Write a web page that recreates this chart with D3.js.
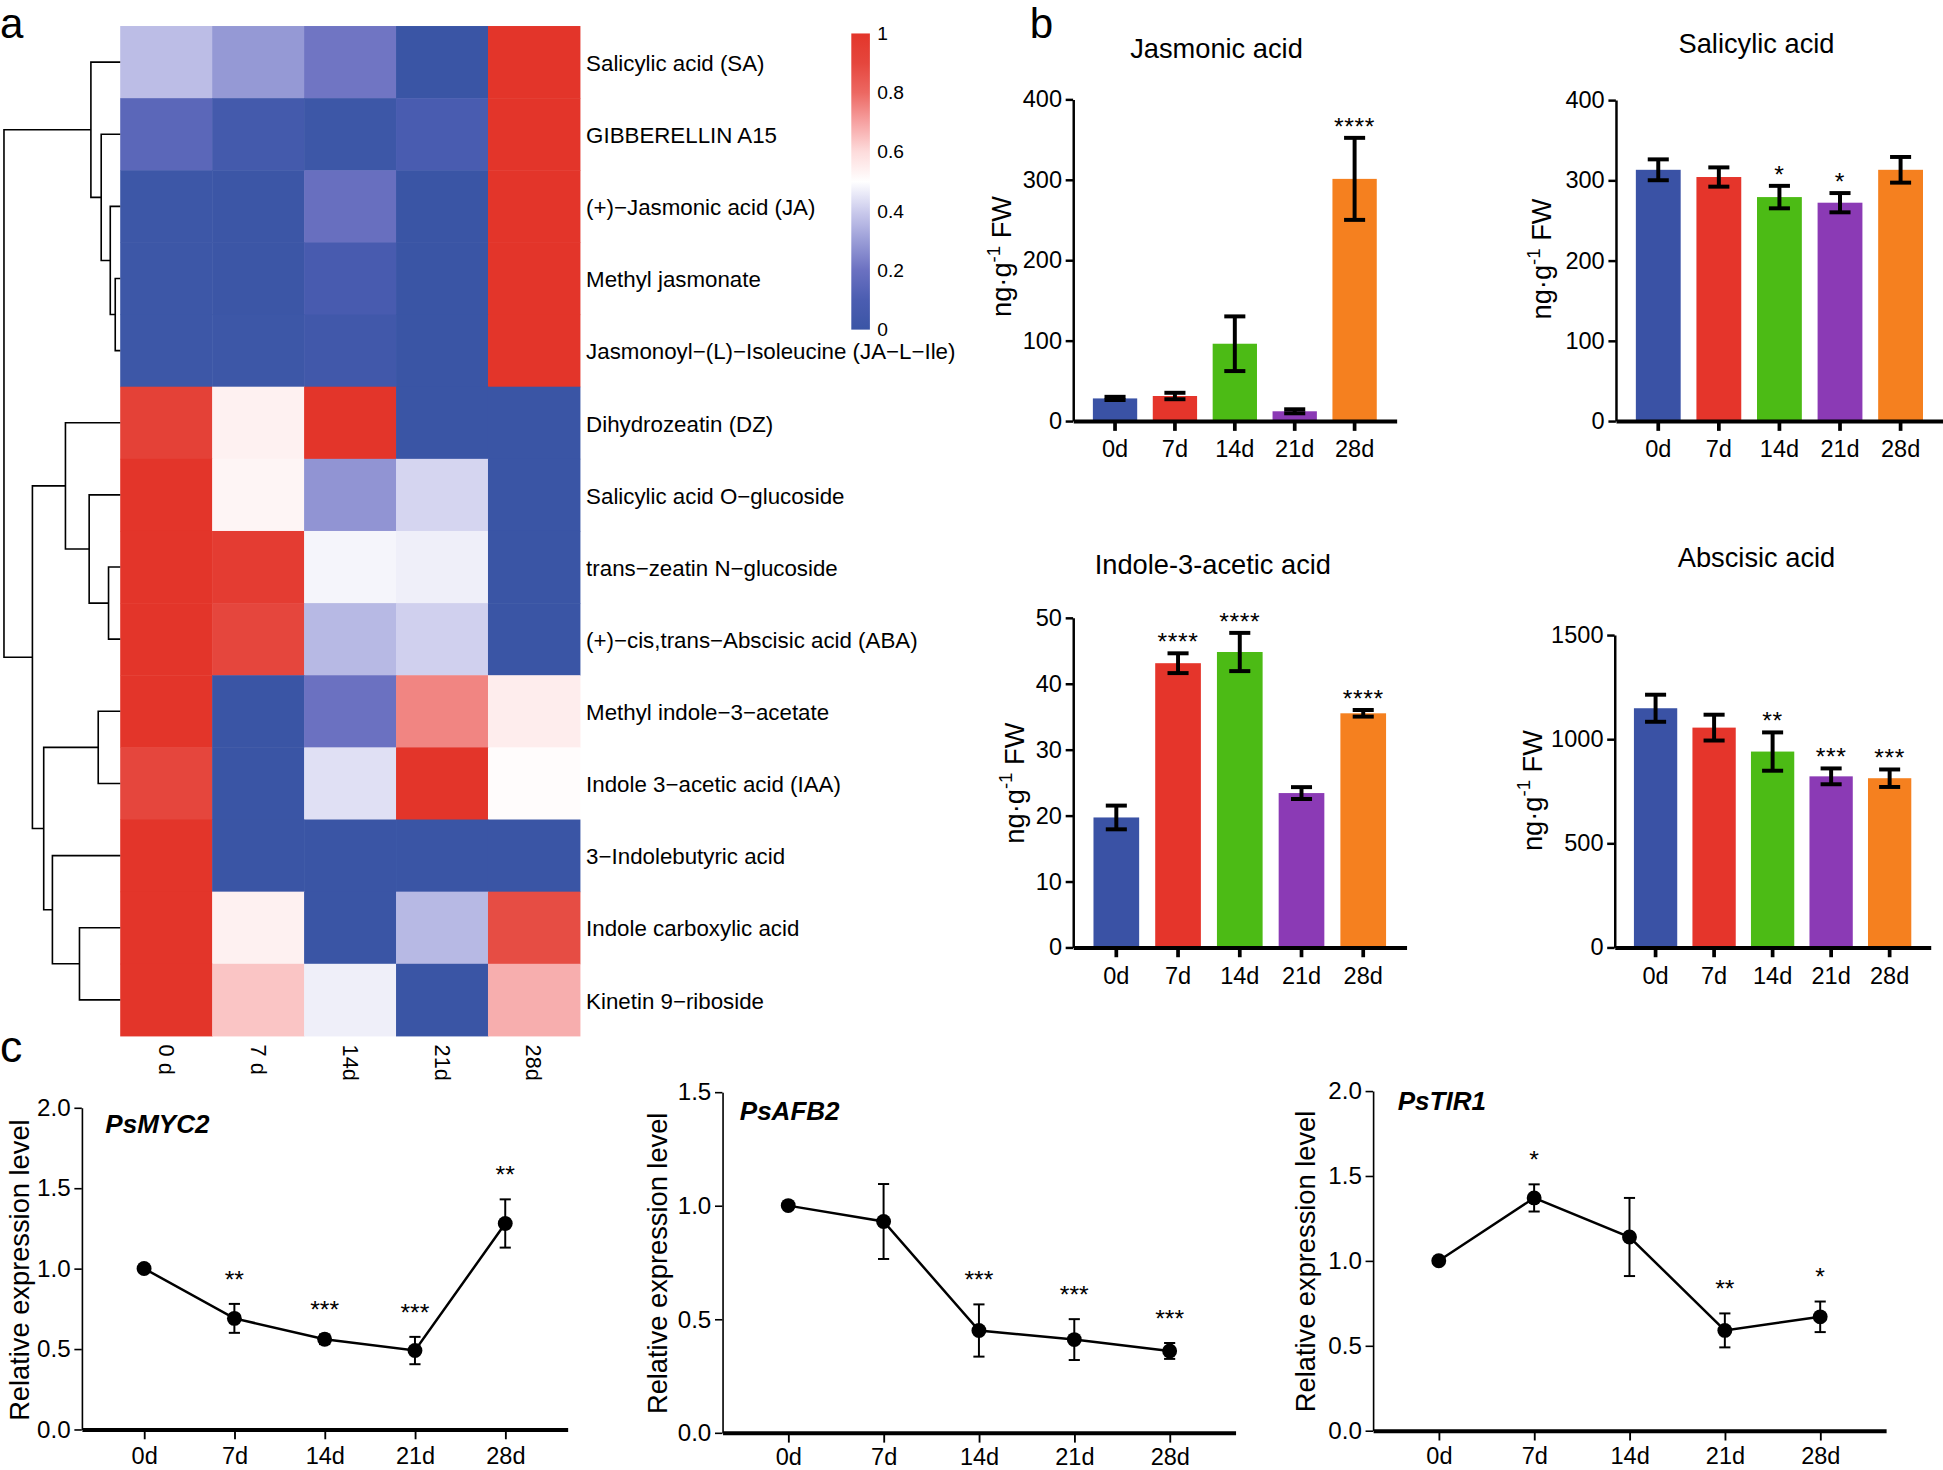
<!DOCTYPE html>
<html>
<head>
<meta charset="utf-8">
<script src="https://d3js.org/d3.v7.min.js"></script>
<style>
  body { margin: 0; background: #fff; }
  svg { display: block; font-family: "Liberation Sans", Arial, Helvetica, sans-serif; }
</style>
</head>
<body>
<div id="fig"></div>
<script>
// ---- panel a: heatmap data ----
const hmRows = [
  "Salicylic acid (SA)",
  "GIBBERELLIN A15",
  "(+)\u2212Jasmonic acid (JA)",
  "Methyl jasmonate",
  "Jasmonoyl\u2212(L)\u2212Isoleucine (JA\u2212L\u2212Ile)",
  "Dihydrozeatin (DZ)",
  "Salicylic acid O\u2212glucoside",
  "trans\u2212zeatin N\u2212glucoside",
  "(+)\u2212cis,trans\u2212Abscisic acid (ABA)",
  "Methyl indole\u22123\u2212acetate",
  "Indole 3\u2212acetic acid (IAA)",
  "3\u2212Indolebutyric acid",
  "Indole carboxylic acid",
  "Kinetin 9\u2212riboside"
];
const hmCols = ["0 d", "7 d", "14d", "21d", "28d"];
const hmValues = [
  [0.37, 0.29, 0.21, 0.00, 1.00],
  [0.15, 0.06, 0.02, 0.09, 1.00],
  [0.02, 0.01, 0.19, 0.00, 1.00],
  [0.02, 0.01, 0.08, 0.00, 1.00],
  [0.02, 0.02, 0.04, 0.00, 1.00],
  [0.93, 0.54, 1.00, 0.00, 0.00],
  [1.00, 0.53, 0.28, 0.42, 0.00],
  [1.00, 0.96, 0.48, 0.47, 0.00],
  [1.00, 0.90, 0.36, 0.41, 0.00],
  [1.00, 0.00, 0.20, 0.75, 0.55],
  [0.90, 0.00, 0.44, 1.00, 0.51],
  [1.00, 0.00, 0.00, 0.00, 0.00],
  [1.00, 0.54, 0.00, 0.36, 0.88],
  [1.00, 0.64, 0.47, 0.00, 0.68]
];
const colorTicks = [0, 0.2, 0.4, 0.6, 0.8, 1];

// row dendrogram (merge heights)
const rowTree = { h: 9.36, children: [
  { h: 2.36, children: [
    { leaf: hmRows[0] },
    { h: 1.53, children: [
      { leaf: hmRows[1] },
      { h: 0.8, children: [
        { leaf: hmRows[2] },
        { h: 0.4, children: [{ leaf: hmRows[3] }, { leaf: hmRows[4] }] }
      ] }
    ] }
  ] },
  { h: 7.07, children: [
    { h: 4.41, children: [
      { leaf: hmRows[5] },
      { h: 2.5, children: [
        { leaf: hmRows[6] },
        { h: 0.94, children: [{ leaf: hmRows[7] }, { leaf: hmRows[8] }] }
      ] }
    ] },
    { h: 6.16, children: [
      { h: 1.77, children: [{ leaf: hmRows[9] }, { leaf: hmRows[10] }] },
      { h: 5.46, children: [
        { leaf: hmRows[11] },
        { h: 3.28, children: [{ leaf: hmRows[12] }, { leaf: hmRows[13] }] }
      ] }
    ] }
  ] }
] };

// ---- panel b: hormone contents ----
const days = ["0d", "7d", "14d", "21d", "28d"];
const barColors = ["#3a52a5", "#e5352b", "#4cbb15", "#8b3ab5", "#f5801f"];

const jaMean = [28, 31, 96, 12, 301];
const jaErr = [2, 4, 34, 2.5, 51];
const jaSig = ["", "", "", "", "****"];

const saMean = [313, 304, 279, 272, 313];
const saErr = [13, 12, 14, 12, 16];
const saSig = ["", "", "*", "*", ""];

const iaaMean = [19.7, 43.1, 44.8, 23.4, 35.5];
const iaaErr = [1.8, 1.5, 2.9, 0.9, 0.5];
const iaaSig = ["", "****", "****", "", "****"];

const abaMean = [1148, 1055, 940, 821, 812];
const abaErr = [65, 62, 92, 38, 42];
const abaSig = ["", "", "**", "***", "***"];

// ---- panel c: relative expression ----
const myc2Mean = [1.0, 0.69, 0.56, 0.49, 1.28];
const myc2Err = [0, 0.09, 0.03, 0.085, 0.15];
const myc2Sig = ["", "**", "***", "***", "**"];

const afb2Mean = [1.0, 0.93, 0.45, 0.41, 0.36];
const afb2Err = [0, 0.165, 0.115, 0.09, 0.035];
const afb2Sig = ["", "", "***", "***", "***"];

const tir1Mean = [1.0, 1.37, 1.14, 0.59, 0.67];
const tir1Err = [0, 0.08, 0.23, 0.1, 0.09];
const tir1Sig = ["", "*", "", "**", "*"];

// ---------------------------------------------------------------
const svg = d3.select("#fig").append("svg")
  .attr("width", 1943).attr("height", 1470)
  .attr("viewBox", "0 0 1568 1186.3");

// panel letters
[["a", 0, 31, 34], ["b", 831, 31, 34], ["c", 0, 857, 36]].forEach(([t, x, y, s]) => {
  svg.append("text").attr("x", x).attr("y", y).attr("font-size", s).text(t);
});

// ---------------- heatmap ----------------
const hmColor = d3.scaleLinear()
  .domain([0, 0.1, 0.2, 0.3, 0.4, 0.5, 0.6, 0.7, 0.8, 0.9, 1])
  .range(["#3a55a5", "#4b5db1", "#6b71c1", "#9a9dd7", "#cbcbec", "#ffffff",
          "#fddcdc", "#f6a2a2", "#ec6862", "#e5463d", "#e3352a"]);

const hmX = d3.scaleBand().domain(hmCols).range([97, 468]);
const hmY = d3.scaleBand().domain(hmRows).range([21, 836]);

const cells = hmRows.flatMap((r, i) => hmCols.map((c, j) => ({ r, c, v: hmValues[i][j] })));
svg.append("g").selectAll("rect").data(cells).join("rect")
  .attr("x", d => hmX(d.c))
  .attr("y", d => hmY(d.r))
  .attr("width", hmX.bandwidth() + 0.4)
  .attr("height", hmY.bandwidth() + 0.4)
  .attr("fill", d => hmColor(d.v));

// row labels
svg.append("g").selectAll("text").data(hmRows).join("text")
  .attr("x", 473)
  .attr("y", d => hmY(d) + hmY.bandwidth() / 2 + 1)
  .attr("dominant-baseline", "central")
  .attr("font-size", 18)
  .text(d => d);

// column labels (rotated)
svg.append("g").selectAll("text").data(hmCols).join("text")
  .attr("transform", d => `translate(${hmX(d) + hmX.bandwidth() / 2},843) rotate(90)`)
  .attr("dominant-baseline", "central")
  .attr("font-size", 17.5)
  .text(d => d);

// dendrogram
const tree = d3.hierarchy(rowTree);
const hx = d3.scaleLinear().domain([0, 9.36]).range([97, 3.2]);
tree.eachAfter(n => {
  n.py = n.children ? d3.mean(n.children, c => c.py) : hmY(n.data.leaf) + hmY.bandwidth() / 2;
  n.px = hx(n.data.h || 0);
});
svg.append("g")
  .attr("fill", "none").attr("stroke", "#000").attr("stroke-width", 1.3)
  .selectAll("path").data(tree.descendants().filter(n => n.children)).join("path")
  .attr("d", n => {
    const [a, b] = n.children;
    return `M${a.px},${a.py}H${n.px}V${b.py}H${b.px}`;
  });

// colour bar
const grad = svg.append("defs").append("linearGradient")
  .attr("id", "cbar").attr("x1", 0).attr("y1", 1).attr("x2", 0).attr("y2", 0);
grad.selectAll("stop").data(d3.range(21).map(i => i / 20)).join("stop")
  .attr("offset", d => d)
  .attr("stop-color", d => hmColor(d));
const cbY = d3.scaleLinear().domain([0, 1]).range([266, 27]);
svg.append("rect")
  .attr("x", 687).attr("y", cbY(1))
  .attr("width", 15).attr("height", cbY(0) - cbY(1))
  .attr("fill", "url(#cbar)");
svg.append("g").selectAll("text").data(colorTicks).join("text")
  .attr("x", 708)
  .attr("y", d => cbY(d))
  .attr("dominant-baseline", "central")
  .attr("font-size", 15.5)
  .text(d => d);

// ---------------- bar charts ----------------
function styleAxis(g, size, domainW, tickW) {
  g.attr("font-family", null).attr("font-size", size);
  g.select(".domain").attr("stroke-width", domainW);
  g.selectAll(".tick line").attr("stroke-width", tickW);
  g.selectAll(".tick text").attr("fill", "#000");
}

function barChart(p) {
  const g = svg.append("g");
  const x = d3.scaleBand().domain(days).range(p.xr).paddingInner(0.26).paddingOuter(0.33);
  const y = d3.scaleLinear().domain([0, p.max]).range(p.yr);
  const cx = i => x(days[i]) + x.bandwidth() / 2;

  g.selectAll("rect").data(p.mean).join("rect")
    .attr("x", (d, i) => x(days[i]))
    .attr("y", d => y(d))
    .attr("width", x.bandwidth())
    .attr("height", d => y(0) - y(d))
    .attr("fill", (d, i) => barColors[i]);

  const eg = g.append("g").attr("stroke", "#000").attr("stroke-width", 3.2);
  p.mean.forEach((m, i) => {
    const lo = m - p.err[i], hi = m + p.err[i];
    eg.append("line").attr("x1", cx(i)).attr("x2", cx(i)).attr("y1", y(lo)).attr("y2", y(hi));
    [lo, hi].forEach(v => eg.append("line")
      .attr("x1", cx(i) - 8.5).attr("x2", cx(i) + 8.5).attr("y1", y(v)).attr("y2", y(v)));
  });

  g.append("g").selectAll("text").data(p.sig).join("text")
    .attr("x", (d, i) => cx(i))
    .attr("y", (d, i) => y(p.mean[i] + p.err[i]) - 2.5)
    .attr("text-anchor", "middle")
    .attr("font-size", 20)
    .attr("letter-spacing", 0.5)
    .text(d => d);

  const ya = g.append("g").attr("transform", `translate(${p.xr[0]},0)`)
    .call(d3.axisLeft(y).tickValues(p.ticks).tickFormat(d3.format("d"))
      .tickSize(6).tickSizeOuter(0).tickPadding(3));
  styleAxis(ya, 19, 2, 2);

  const xa = g.append("g").attr("transform", `translate(0,${y(0)})`)
    .call(d3.axisBottom(x).tickSize(8).tickSizeOuter(0).tickPadding(8));
  styleAxis(xa, 19, 3.2, 3);

  g.append("text").attr("x", p.tx).attr("y", p.ty)
    .attr("text-anchor", "middle").attr("font-size", 22).text(p.title);

  const yl = g.append("text")
    .attr("transform", `translate(${p.lx},${p.ly}) rotate(-90)`)
    .attr("text-anchor", "middle").attr("font-size", 22);
  yl.append("tspan").text("ng\u00b7g");
  yl.append("tspan").attr("dy", -9).attr("font-size", 15).text("-1");
  yl.append("tspan").attr("dy", 9).text(" FW");
}

barChart({ mean: jaMean, err: jaErr, sig: jaSig, max: 400, ticks: [0, 100, 200, 300, 400],
  xr: [866, 1127], yr: [339.7, 80.1], title: "Jasmonic acid", tx: 981.7, ty: 46.7, lx: 816, ly: 207 });
barChart({ mean: saMean, err: saErr, sig: saSig, max: 400, ticks: [0, 100, 200, 300, 400],
  xr: [1304, 1568], yr: [339.7, 80.7], title: "Salicylic acid", tx: 1417.5, ty: 42.5, lx: 1252, ly: 209 });
barChart({ mean: iaaMean, err: iaaErr, sig: iaaSig, max: 50, ticks: [0, 10, 20, 30, 40, 50],
  xr: [866, 1135], yr: [764.5, 498.5], title: "Indole-3-acetic acid", tx: 978.8, ty: 463.5, lx: 826, ly: 632 });
barChart({ mean: abaMean, err: abaErr, sig: abaSig, max: 1500, ticks: [0, 500, 1000, 1500],
  xr: [1303, 1558], yr: [764.5, 512.4], title: "Abscisic acid", tx: 1417.5, ty: 457.3, lx: 1244, ly: 638 });

// ---------------- line charts ----------------
function lineChart(p) {
  const g = svg.append("g");
  const x = d3.scalePoint().domain(days).range(p.xr).padding(0.69);
  const y = d3.scaleLinear().domain([0, p.max]).range(p.yr);

  const ya = g.append("g").attr("transform", `translate(${p.xr[0]},0)`)
    .call(d3.axisLeft(y).tickValues(p.ticks).tickFormat(d3.format(".1f"))
      .tickSize(6).tickSizeOuter(0).tickPadding(3));
  styleAxis(ya, 19.5, 1.3, 1.3);

  const xa = g.append("g").attr("transform", `translate(0,${y(0)})`)
    .call(d3.axisBottom(x).tickSize(8).tickSizeOuter(0).tickPadding(p.pad));
  styleAxis(xa, 19, 3.2, 1.5);

  g.append("path").datum(p.mean)
    .attr("fill", "none").attr("stroke", "#000").attr("stroke-width", 2)
    .attr("d", d3.line().x((d, i) => x(days[i])).y(d => y(d)));

  const eg = g.append("g").attr("stroke", "#000").attr("stroke-width", 1.6);
  p.mean.forEach((m, i) => {
    if (!p.err[i]) return;
    const lo = m - p.err[i], hi = m + p.err[i], xi = x(days[i]);
    eg.append("line").attr("x1", xi).attr("x2", xi).attr("y1", y(lo)).attr("y2", y(hi));
    [lo, hi].forEach(v => eg.append("line")
      .attr("x1", xi - 4.5).attr("x2", xi + 4.5).attr("y1", y(v)).attr("y2", y(v)));
  });

  g.append("g").selectAll("circle").data(p.mean).join("circle")
    .attr("cx", (d, i) => x(days[i]))
    .attr("cy", d => y(d))
    .attr("r", 6)
    .attr("fill", "#000");

  g.append("g").selectAll("text").data(p.sig).join("text")
    .attr("x", (d, i) => x(days[i]))
    .attr("y", (d, i) => y(p.mean[i] + p.err[i]) - 13)
    .attr("text-anchor", "middle")
    .attr("font-size", 20)
    .text(d => d);

  g.append("text").attr("x", p.tx).attr("y", p.ty)
    .attr("font-size", 21).attr("font-weight", "bold").attr("font-style", "italic")
    .text(p.title);

  g.append("text")
    .attr("transform", `translate(${p.lx},${p.ly}) rotate(-90)`)
    .attr("text-anchor", "middle").attr("font-size", 22)
    .text("Relative expression level");
}

lineChart({ mean: myc2Mean, err: myc2Err, sig: myc2Sig, max: 2, ticks: [0, 0.5, 1, 1.5, 2],
  xr: [66, 458], yr: [1153.5, 893.9], pad: 6.5, title: "PsMYC2", tx: 85, ty: 914.6, lx: 23, ly: 1025 });
lineChart({ mean: afb2Mean, err: afb2Err, sig: afb2Sig, max: 1.5, ticks: [0, 0.5, 1, 1.5],
  xr: [583, 997], yr: [1156.2, 881.3], pad: 4.3, title: "PsAFB2", tx: 597, ty: 903.8, lx: 538, ly: 1019.5 });
lineChart({ mean: tir1Mean, err: tir1Err, sig: tir1Sig, max: 2, ticks: [0, 0.5, 1, 1.5, 2],
  xr: [1108, 1522], yr: [1154.5, 880.4], pad: 5.8, title: "PsTIR1", tx: 1128, ty: 895.8, lx: 1061, ly: 1018 });
</script>
</body>
</html>
